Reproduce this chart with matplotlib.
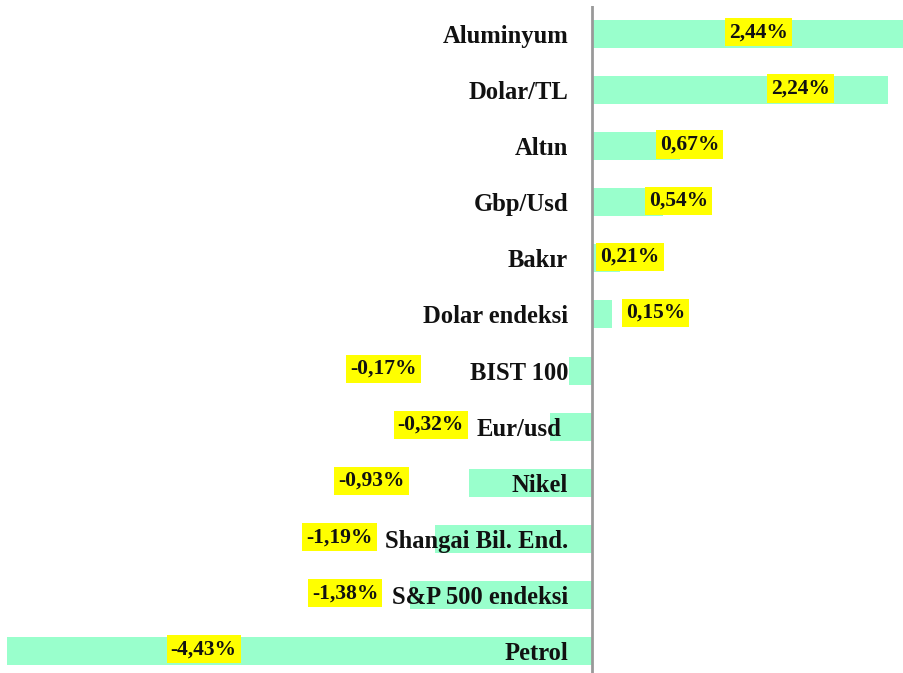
import matplotlib
matplotlib.use("Agg")
import matplotlib.pyplot as plt

categories = ["Aluminyum", "Dolar/TL", "Altın", "Gbp/Usd", "Bakır", "Dolar endeksi",
              "BIST 100", "Eur/usd", "Nikel", "Shangai Bil. End.", "S&P 500 endeksi", "Petrol"]
values = [2.44, 2.24, 0.67, 0.54, 0.21, 0.15, -0.17, -0.32, -0.93, -1.19, -1.38, -4.43]
value_labels = ["2,44%", "2,24%", "0,67%", "0,54%", "0,21%", "0,15%",
                "-0,17%", "-0,32%", "-0,93%", "-1,19%", "-1,38%", "-4,43%"]
# layout: label centre positions (data units)
label_pos = [1.26, 1.58, 0.74, 0.655, 0.29, 0.48, -1.576, -1.22, -1.67, -1.91, -1.87, -2.94]

fig = plt.figure(figsize=(9.04, 6.73), dpi=100)
ax = fig.add_axes([0, -6 / 673, 1, 1.0])
n = len(categories)
ys = list(range(n))
ax.barh(ys, values, height=0.5, color="#99FFCC", zorder=1)
ax.set_ylim(n - 0.5, -0.5)
ax.set_xlim(-4.483, 2.364)
for s in ax.spines.values():
    s.set_visible(False)
ax.set_xticks([])
ax.set_yticks([])
ax.axvline(0, color="#999999", lw=2, zorder=3)

cat_font = dict(family="Liberation Serif", fontweight="bold", fontsize=17.7)
val_font = dict(family="Liberation Serif", fontweight="bold", fontsize=15.5)
for y, cat in zip(ys, categories):
    x = -0.227 if cat == "Eur/usd" else -0.18
    ax.text(x, y + 0.16, cat, ha="right", va="baseline", color="#111111", zorder=4, **cat_font)
for y, lab, px in zip(ys, value_labels, label_pos):
    ax.text(px, y - 0.03, lab, ha="center", va="center", color="#111111", zorder=5,
            bbox=dict(facecolor="#FFFF00", edgecolor="none", pad=3.0), **val_font)

fig.savefig("out.png", dpi=100)
